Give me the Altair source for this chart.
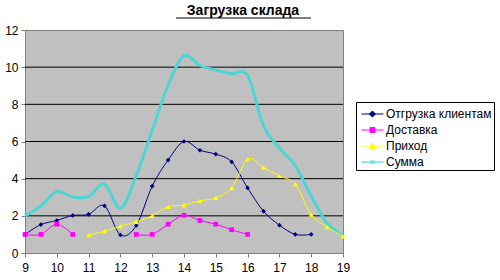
import altair as alt
import pandas as pd

hours = [9, 9.5, 10, 10.5, 11, 11.5, 12, 12.5, 13, 13.5, 14, 14.5, 15, 15.5,
         16, 16.5, 17, 17.5, 18, 18.5, 19]
shipment = [1.0, 1.53, 1.75, 2.02, 2.08, 2.54, 0.97, 1.48, 3.6, 5.0, 6.0, 5.53,
            5.32, 4.9, 3.5, 2.25, 1.5, 1.0, 1.0, None, None]
delivery = [1.0, 1.0, 1.55, 1.0, None, None, None, 1.0, 1.0, 1.55, 2.03, 1.75,
            1.55, 1.25, 1.0, None, None, None, None, None, None]
incoming = [None, None, None, None, 0.96, 1.17, 1.44, 1.68, 2.0, 2.49, 2.58, 2.81,
            2.97, 3.5, 5.05, 4.6, 4.15, 3.7, 2.07, 1.4, 0.9]
total = [2.0, 2.53, 3.3, 3.02, 3.04, 3.71, 2.41, 4.16, 6.6, 9.04, 10.61, 10.09,
         9.84, 9.65, 9.55, 6.85, 5.65, 4.7, 3.07, 1.6, 0.95]

names = ["Отгрузка клиентам", "Доставка", "Приход", "Сумма"]
colors = ["#000080", "#FF00FF", "#FFFF00", "#4FD4D4"]
legend_colors = ["#000080", "#FF00FF", "#FFFF00", "#2ED0D0"]
widths = [1, 1, 1, 3]
marker_shapes = ["diamond", "square", "triangle-up", "cross"]
legend_paths = [
    "M-0.68,0L1.63,0M0.47,-0.32L0.79,0L0.47,0.32L0.15,0Z",
    "M-0.68,0L1.63,0M0.21,-0.26L0.73,-0.26L0.73,0.26L0.21,0.26Z",
    "M-0.68,0L1.63,0M0.47,-0.32L0.79,0.26L0.15,0.26Z",
    "M-0.68,0L1.63,0M0.25,-0.22L0.69,0.22M0.25,0.22L0.69,-0.22",
]
grid_values = [2, 4, 6, 8, 10]
x_ticks = list(range(9, 20))
y_ticks = [0, 2, 4, 6, 8, 10, 12]
title_text = "Загрузка склада"

rows = []
for name, series in zip(names, [shipment, delivery, incoming, total]):
    seg = 0
    prev_none = True
    for h, v in zip(hours, series):
        if v is None:
            prev_none = True
            continue
        if prev_none:
            seg += 1
        prev_none = False
        rows.append({"hour": h, "value": v, "series": name, "seg": f"{name}-{seg}"})
df = pd.DataFrame(rows)

FONT = "Liberation Sans"
xenc = alt.X("hour:Q", scale=alt.Scale(domain=[9, 19], nice=False),
             axis=alt.Axis(values=x_ticks, title=None, grid=False, labelFontSize=12,
                           labelFont=FONT, labelColor="black", tickSize=4,
                           tickColor="#808080", domainColor="#808080",
                           labelPadding=5, labelFlush=False, format="d"))
yenc = alt.Y("value:Q", scale=alt.Scale(domain=[0, 12], nice=False),
             axis=alt.Axis(values=y_ticks, title=None, grid=False, labelFontSize=12,
                           labelFont=FONT, labelColor="black", tickSize=4,
                           tickColor="#808080", domainColor="#808080",
                           labelPadding=3, format="d"))

grid = alt.Chart(pd.DataFrame({"value": grid_values})).mark_rule(
    color="black", strokeWidth=1).encode(y=yenc)

line_layers = []
for i in [3, 0, 1, 2]:
    name = names[i]
    line_layers.append(
        alt.Chart(df).transform_filter(alt.datum.series == name).mark_line(
            interpolate="cardinal", color=colors[i], strokeWidth=widths[i]).encode(
            x=xenc, y=yenc, detail="seg:N"))

point_layers = []
for name, col, shp, sz in zip(names[:3], colors[:3], marker_shapes[:3], [22, 22, 26]):
    point_layers.append(
        alt.Chart(df).transform_filter(alt.datum.series == name).mark_point(
            shape=shp, filled=True, color=col, size=sz, opacity=1).encode(x=xenc, y=yenc))

leg = alt.Legend(title=None, symbolSize=361, symbolStrokeWidth=1)
legend_layer = alt.Chart(df).transform_filter("datum.value > 1000").mark_point(
    filled=True, opacity=1, size=361).encode(
    x=xenc, y=yenc,
    fill=alt.Fill("series:N", scale=alt.Scale(domain=names, range=legend_colors),
                  legend=leg),
    stroke=alt.Stroke("series:N", scale=alt.Scale(domain=names, range=legend_colors),
                      legend=leg),
    shape=alt.Shape("series:N", scale=alt.Scale(domain=names, range=legend_paths),
                    legend=leg),
)

underline = alt.Chart(alt.Data(values=[{}])).mark_rule(color="black", strokeWidth=1).encode(
    x=alt.value(151), x2=alt.value(286), y=alt.value(-12))

chart = alt.layer(grid, *line_layers, *point_layers, legend_layer, underline).properties(
    width=318, height=223,
    padding={"left": 25, "top": 30, "right": 157, "bottom": 27},
    autosize=alt.AutoSizeParams(type="none"),
    background="white",
    title=alt.TitleParams(title_text, font=FONT, fontSize=14, fontWeight="bold",
                          anchor="middle", frame="group", dx=59, offset=0,
                          color="black"),
).configure_view(fill="#C0C0C0", stroke="#808080").configure_legend(
    orient="none", legendX=331, legendY=72, fillColor="white", strokeColor="black",
    padding=2, labelFont=FONT, labelFontSize=12, labelColor="black",
    symbolStrokeWidth=1, rowPadding=0, labelOffset=8,
    cornerRadius=0,
)

chart.save("out.html", embed_options={"renderer": "svg", "actions": False})
